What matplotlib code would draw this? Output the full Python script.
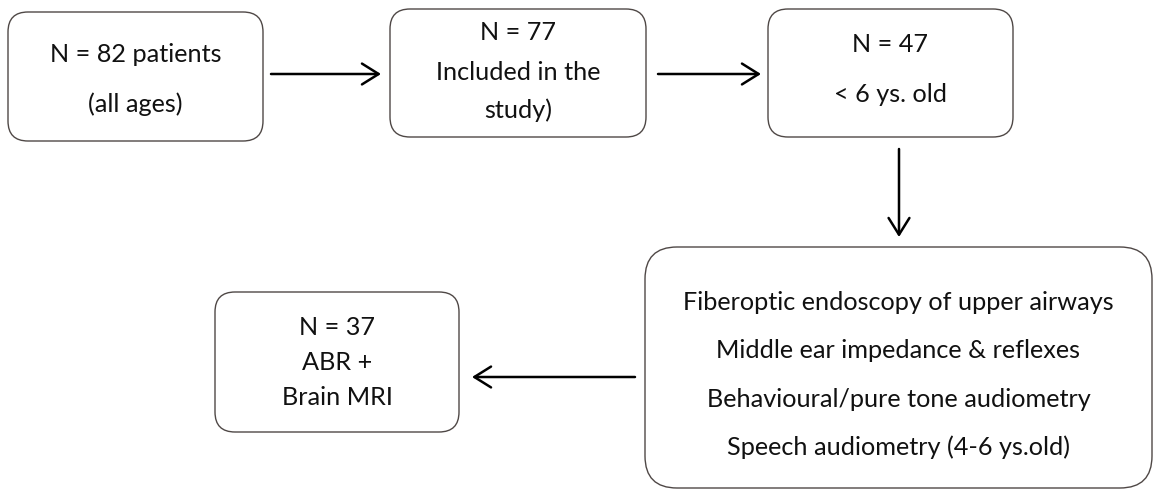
import matplotlib
matplotlib.use('Agg')
from matplotlib import pyplot as plt
from matplotlib.patches import FancyBboxPatch

plt.rcParams['font.family'] = ['Lato', 'DejaVu Sans']

# boxes: left, top, right, bottom (pixels), corner radius
box_left = [8, 390, 768, 645, 215]
box_top = [12, 9, 9, 247, 292]
box_right = [263, 646, 1013, 1152, 459]
box_bottom = [141, 137, 137, 488, 432]
box_round = [20, 20, 20, 32, 20]

# text lines of each box and their vertical positions
box_lines = [
    ['N = 82 patients', '(all ages)'],
    ['N = 77', 'Included in the', 'study)'],
    ['N = 47', '< 6 ys. old'],
    ['Fiberoptic endoscopy of upper airways',
     'Middle ear impedance & reflexes',
     'Behavioural/pure tone audiometry',
     'Speech audiometry (4-6 ys.old)'],
    ['N = 37', 'ABR +', 'Brain MRI'],
]
line_y = [
    [55, 104],
    [32, 73, 110],
    [45, 95],
    [302, 350, 399, 447],
    [327, 362, 397],
]

# arrows: start (x, y) -> end (x, y)
arrow_from = [(271, 74), (658, 74), (899, 149), (635, 377)]
arrow_to = [(381, 74), (761, 74), (899, 237), (472, 377)]

fig = plt.figure(figsize=(11.56, 4.9), dpi=100)
ax = fig.add_axes([0, 0, 1, 1])
ax.set_xlim(0, 1156)
ax.set_ylim(490, 0)
ax.axis('off')

for i in range(len(box_left)):
    w = box_right[i] - box_left[i]
    h = box_bottom[i] - box_top[i]
    p = FancyBboxPatch((box_left[i], box_top[i]), w, h,
                       boxstyle='round,pad=0,rounding_size=%d' % box_round[i],
                       facecolor='white', edgecolor='#4f4846', lw=1.0)
    ax.add_patch(p)
    cx = (box_left[i] + box_right[i]) / 2
    for txt, y in zip(box_lines[i], line_y[i]):
        ax.text(cx, y, txt, ha='center', va='center', fontsize=18.2, color='#111111')

for a, b in zip(arrow_from, arrow_to):
    ax.annotate('', xy=b, xytext=a,
                arrowprops=dict(arrowstyle='->,head_length=1.2,head_width=0.75',
                                color='black', lw=1.8, shrinkA=0, shrinkB=0))

plt.savefig('out.png', dpi=100)
